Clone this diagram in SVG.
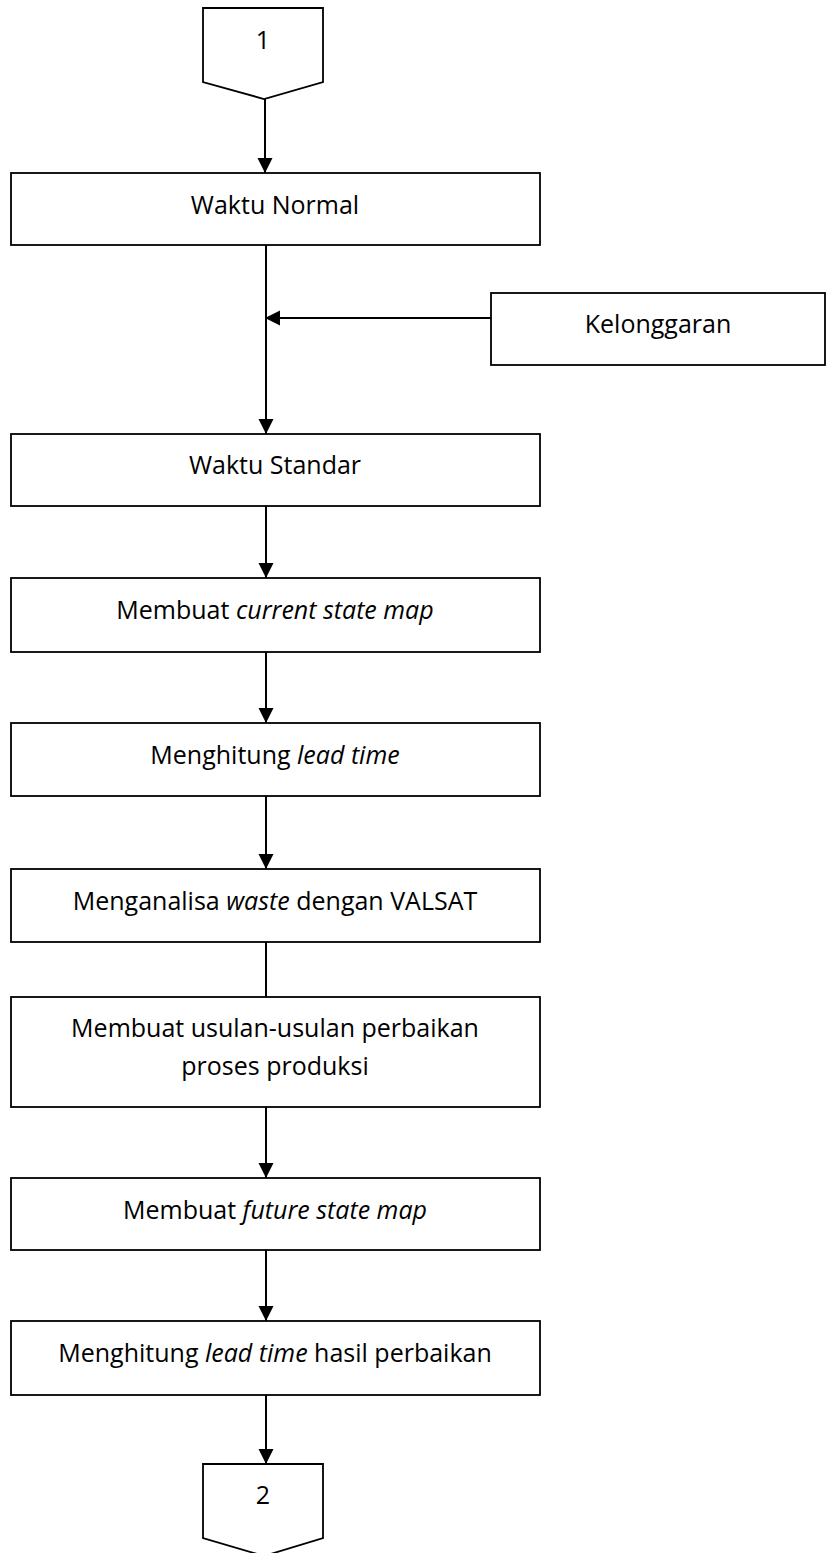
<svg xmlns="http://www.w3.org/2000/svg" width="826" height="1553" viewBox="0 0 826 1553">
<style>
.box{fill:#fff;stroke:#000;stroke-width:1.8}
.ln{fill:none;stroke:#000;stroke-width:2}
.t{font-family:"Open Sans","Liberation Sans",sans-serif;font-size:25px;fill:#000;text-anchor:middle}
.i{font-style:italic}
</style>
<defs>
<marker id="ah" markerUnits="userSpaceOnUse" markerWidth="16" markerHeight="16" refX="15" refY="7.5" orient="auto">
<path d="M0,0 L15,7.5 L0,15 z" fill="#000"/>
</marker>
</defs>
<rect width="826" height="1553" fill="#fff"/>
<g id="connectors">
<line class="ln" x1="265" y1="99" x2="265" y2="173" marker-end="url(#ah)"/>
<line class="ln" x1="266" y1="245" x2="266" y2="434" marker-end="url(#ah)"/>
<line class="ln" x1="491" y1="318" x2="265" y2="318" marker-end="url(#ah)"/>
<line class="ln" x1="266" y1="506" x2="266" y2="578" marker-end="url(#ah)"/>
<line class="ln" x1="266" y1="652" x2="266" y2="723" marker-end="url(#ah)"/>
<line class="ln" x1="266" y1="796" x2="266" y2="869" marker-end="url(#ah)"/>
<line class="ln" x1="266" y1="942" x2="266" y2="997"/>
<line class="ln" x1="266" y1="1105" x2="266" y2="1178" marker-end="url(#ah)"/>
<line class="ln" x1="266" y1="1250" x2="266" y2="1321" marker-end="url(#ah)"/>
<line class="ln" x1="266" y1="1395" x2="266" y2="1464" marker-end="url(#ah)"/>
</g>
<g id="start">
<polygon class="box" points="203,8 323,8 323,82 264,99 203,82"/>
<text class="t" x="263" y="49">1</text>
</g>
<g id="waktu-normal">
<rect class="box" x="11" y="173" width="529" height="72"/>
<text class="t" x="275" y="214">Waktu Normal</text>
</g>
<g id="kelonggaran">
<rect class="box" x="491" y="293" width="334" height="72"/>
<text class="t" x="658" y="333">Kelonggaran</text>
</g>
<g id="waktu-standar">
<rect class="box" x="11" y="434" width="529" height="72"/>
<text class="t" x="275" y="474">Waktu Standar</text>
</g>
<g id="current-state">
<rect class="box" x="11" y="578" width="529" height="74"/>
<text class="t" x="275" y="619">Membuat <tspan class="i">current state map</tspan></text>
</g>
<g id="lead-time">
<rect class="box" x="11" y="723" width="529" height="73"/>
<text class="t" x="275" y="764">Menghitung <tspan class="i">lead time</tspan></text>
</g>
<g id="valsat">
<rect class="box" x="11" y="869" width="529" height="73"/>
<text class="t" x="275" y="910">Menganalisa <tspan class="i">waste</tspan> dengan VALSAT</text>
</g>
<g id="usulan">
<rect class="box" x="11" y="997" width="529" height="110"/>
<text class="t" x="275" y="1037">Membuat usulan-usulan perbaikan</text>
<text class="t" x="275" y="1075">proses produksi</text>
</g>
<g id="future-state">
<rect class="box" x="11" y="1178" width="529" height="72"/>
<text class="t" x="275" y="1219">Membuat <tspan class="i">future state map</tspan></text>
</g>
<g id="lead-time-hasil">
<rect class="box" x="11" y="1321" width="529" height="74"/>
<text class="t" x="275" y="1362">Menghitung <tspan class="i">lead time</tspan> hasil perbaikan</text>
</g>
<g id="end">
<polygon class="box" points="203,1464 323,1464 323,1538 264,1556 203,1538"/>
<text class="t" x="263" y="1504">2</text>
</g>
</svg>
